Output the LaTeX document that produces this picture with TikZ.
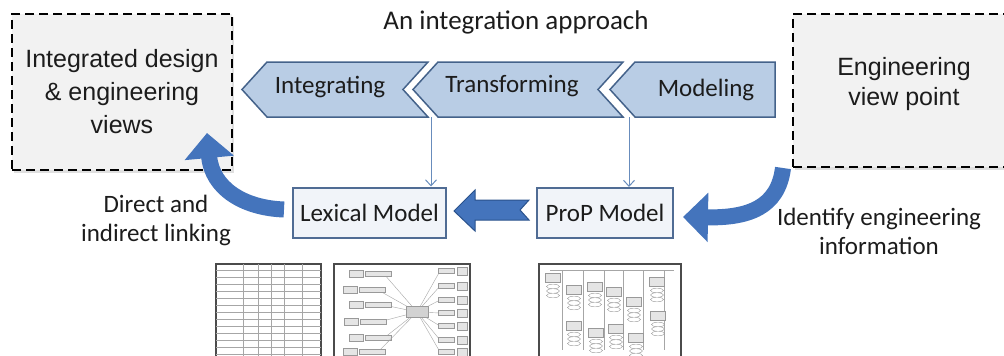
\documentclass[tikz,border=0pt]{standalone}
\usepackage{fontspec}
\setmainfont{Carlito}
\newfontfamily\arialfont{Liberation Sans}
\usetikzlibrary{positioning, arrows.meta, calc, shadows}
\definecolor{chevfill}{RGB}{185,205,229}
\definecolor{chevdraw}{RGB}{68,98,138}
\definecolor{thinblue}{RGB}{104,140,188}
\definecolor{bigblue}{RGB}{68,116,188}
\definecolor{bigdraw}{RGB}{42,82,140}
\definecolor{viewfill}{RGB}{242,242,242}
\definecolor{modeldraw}{RGB}{80,108,148}
\definecolor{modelfill}{RGB}{241,244,249}
\definecolor{txtdark}{RGB}{28,28,28}
\definecolor{thumbgray}{RGB}{75,75,75}
\tikzset{
    viewbox/.style={rectangle, draw=black, fill=viewfill, dash pattern=on 9pt off 5pt, line width=2.4pt, align=center, text=txtdark, font=\arialfont\fontsize{25}{33}\selectfont, drop shadow={opacity=0.25, shadow xshift=2pt, shadow yshift=-3pt}},
    chevron/.style={fill=chevfill, draw=chevdraw, line width=1.5pt, line join=miter},
    chevlbl/.style={font=\fontsize{25}{30}\selectfont, text=txtdark, inner sep=0pt},
    modelbox/.style={rectangle, draw=modeldraw, fill=modelfill, line width=2pt, font=\fontsize{25}{30}\selectfont, text=txtdark, minimum height=50pt, inner sep=0pt},
    sidelbl/.style={align=center, font=\fontsize{25}{29}\selectfont, text=txtdark, inner sep=0pt},
    thinarr/.style={-{Straight Barb[length=6pt, width=11pt]}, draw=thinblue, line width=1pt},
    bigarr/.style={-{Triangle[length=25pt, width=48pt]}, draw=bigblue, line width=16pt},
    blockarr/.style={fill=bigblue, draw=bigdraw, line width=1pt, line join=miter},
    thumb/.style={draw=thumbgray, line width=1.6pt, fill=white},
    gridln/.style={draw=gray!70, line width=0.5pt},
    minibox/.style={rectangle, draw=gray!80, fill=gray!20, line width=0.4pt, inner sep=0pt}
}
\begin{document}
\begin{tikzpicture}[x=1pt, y=-1pt]
    \useasboundingbox (0,0) rectangle (1004,356);
    \clip (0,0) rectangle (1004,356);

    % Title
    \node[font=\fontsize{27}{30}\selectfont, text=txtdark] (title) at (516,22) {An integration approach};

    % Dashed view boxes
    \node[viewbox, minimum width=220pt, minimum height=156pt] (intview) at (122,92) {Integrated design\\\& engineering\\views};
    \node[viewbox, minimum width=222pt, minimum height=153pt] (engview) at (904,90.5) {};
    \node[align=center, text=txtdark, font=\arialfont\fontsize{25}{30}\selectfont] (engtxt) at (904,84) {Engineering\\view point};

    % Chevrons of the approach
    \draw[chevron] (242,89.5) -- (267,62) -- (428,62) -- (403,89.5) -- (428,117) -- (267,117) -- cycle;
    \draw[chevron] (413,89.5) -- (438,62) -- (623,62) -- (598,89.5) -- (623,117) -- (438,117) -- cycle;
    \draw[chevron] (610,89.5) -- (635,62) -- (775,62) -- (775,117) -- (635,117) -- cycle;
    \node[chevlbl] (integ) at (330,87) {Integrating};
    \node[chevlbl] (transf) at (512,86) {Transforming};
    \node[chevlbl] (model) at (706,90) {Modeling};
    \coordinate (integcorner) at (431,117);
    \coordinate (transfcorner) at (629,117);

    % Models
    \node[modelbox, minimum width=153pt] (lexical) at (369.5,212.5) {Lexical Model};
    \node[modelbox, minimum width=136pt] (prop) at (605,213) {ProP Model};

    % Thin arrows
    \draw[thinarr] (integcorner) -- (integcorner |- lexical.north);
    \draw[thinarr] (transfcorner) -- (transfcorner |- prop.north);

    % Block arrow ProP -> Lexical
    \draw[blockarr] ($(lexical.east)+(7,-1.5)$) -- ++(21,-21) -- ++(0,10) -- ++(54,0) -- ++(-9,10)
        -- ++(9,10) -- ++(-54,0) -- ++(0,11) -- cycle;

    % Curved arrows
    \coordinate (engtail) at (783,168);
    \draw[bigarr] (engtail) .. controls (778,208) and (748,218) .. ($(prop.east)+(9,4)$);
    \coordinate (inttip) at (207,133);
    \draw[bigarr] ($(lexical.west)+(-8,-3)$) .. controls (243,208) and (212,188) .. (inttip);

    % Labels
    \node[sidelbl] (linklbl) at (156,220) {Direct and\\indirect linking};
    \node[sidelbl] (identlbl) at (879,231) {Identify engineering\\information};

    % Thumbnail: table
    \draw[thumb] (216,264) rectangle (321,360);
    \foreach \x in {243,258,271,284,302}
        \draw[gridln] (\x,264) -- (\x,360);
    \foreach \y in {270,277,...,356}
        \draw[gridln] (216,\y) -- (321,\y);

    % Thumbnail: mind map
    \draw[thumb] (334,264) rectangle (470,360);
    \node[minibox, minimum width=22pt, minimum height=11pt, fill=gray!35] (mmcenter) at (417,312) {};
    \foreach \y/\xx in {274/384, 290/378, 305/384, 322/379, 338/384, 352/378} {
        \draw[gray!70, line width=0.4pt] (mmcenter) -- (\xx,\y);
        \node[minibox, minimum width=26pt, minimum height=5pt] at (\xx-6,\y) {};
        \node[minibox, minimum width=14pt, minimum height=7pt] at (\xx-28,\y) {};
    }
    \foreach \y in {271,286,300,313,326,340,352} {
        \draw[gray!70, line width=0.4pt] (mmcenter) -- (440,\y);
        \node[minibox, minimum width=16pt, minimum height=5pt] at (446,\y) {};
        \node[minibox, minimum width=10pt, minimum height=8pt] at (462,\y) {};
    }

    % Thumbnail: ProP model
    \draw[thumb] (539,264) rectangle (681,360);
    \draw[gray!70, line width=0.6pt] (550,270) -- (674,270);
    \foreach \x in {562,583,604,623,643,664}
        \draw[gray!70, line width=0.6pt] (\x,270) -- (\x,350);
    \foreach \x/\y in {553/278, 574/290, 595/287, 614/292, 634/302, 657/282, 574/326, 596/333, 616/329, 636/338, 658/316} {
        \node[minibox, minimum width=15pt, minimum height=9pt] at (\x,\y) {};
        \foreach \k in {1,2,3}
            \draw[gray!80, line width=0.4pt, fill=white] (\x,\y+4+\k*4.5) ellipse (6.5pt and 2.3pt);
    }
\end{tikzpicture}
\end{document}
